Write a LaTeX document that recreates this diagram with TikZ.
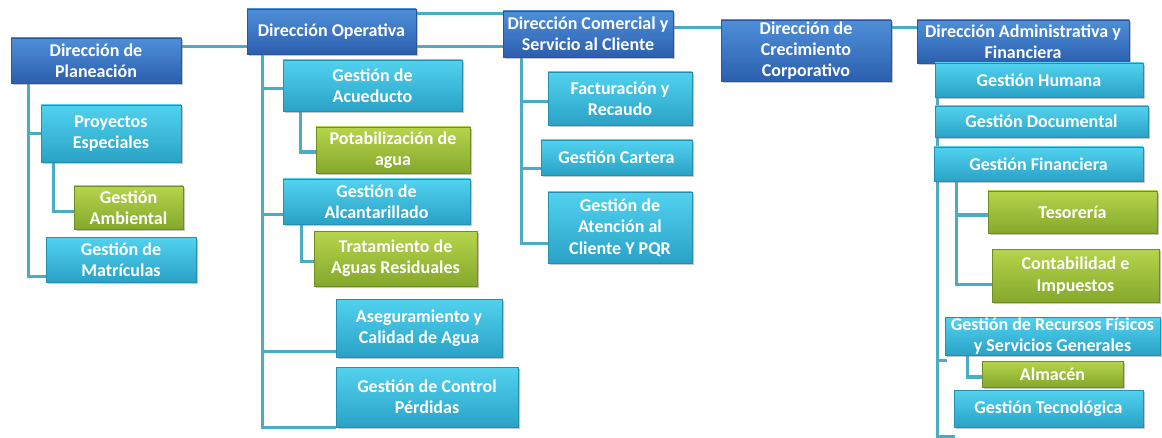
\documentclass[tikz,border=0pt]{standalone}
\usepackage{fontspec}
\setmainfont{Carlito}
\usetikzlibrary{calc,shadows,backgrounds}
\definecolor{dirtop}{HTML}{4E8FD8}
\definecolor{dirbot}{HTML}{2C5FAE}
\definecolor{dirline}{HTML}{2A55A0}
\definecolor{cyntop}{HTML}{52D2EF}
\definecolor{cynbot}{HTML}{2AA2C6}
\definecolor{cynline}{HTML}{2490B0}
\definecolor{grntop}{HTML}{B6D54C}
\definecolor{grnbot}{HTML}{85A82C}
\definecolor{grnline}{HTML}{6E8E22}
\definecolor{conn}{HTML}{4BACC6}
\tikzset{
  basebox/.style={inner sep=0pt, align=center, text=white,
    font=\fontsize{13.5}{16}\selectfont\bfseries, line width=0.6pt,
    drop shadow={shadow xshift=1.2pt, shadow yshift=-1.5pt, opacity=0.45}},
  sz/.style 2 args={minimum width=#1*0.75pt, minimum height=#2*0.75pt},
  dirbox/.style={basebox, top color=dirtop, bottom color=dirbot, draw=dirline},
  cynbox/.style={basebox, top color=cyntop, bottom color=cynbot, draw=cynline},
  grnbox/.style={basebox, top color=grntop, bottom color=grnbot, draw=grnline},
  conline/.style={draw=conn, line width=2.4pt}
}
\begin{document}
\begin{tikzpicture}[x=0.75pt,y=-0.75pt]
\useasboundingbox (0,0) rectangle (1162,438);
% Direcciones
\node[dirbox, sz={170}{45}] (plan) at (96,60.5) {Dirección de\\Planeación};
\node[dirbox, sz={169}{45}] (op) at (331.5,31.5) {Dirección Operativa};
\node[dirbox, sz={170}{46}] (com) at (588,34) {Dirección Comercial y\\Servicio al Cliente};
\node[dirbox, sz={170}{61}] (crec) at (806,50.5) {Dirección de\\Crecimiento\\Corporativo};
\node[dirbox, sz={212}{43}] (adm) at (1023,41.5) {Dirección Administrativa y\\Financiera};
% Planeacion
\node[cynbox, sz={140}{57}] (proy) at (111,133.5) {Proyectos\\Especiales};
\node[grnbox, sz={109}{43}] (amb) at (128.5,207.5) {Gestión\\Ambiental};
\node[cynbox, sz={150}{45}] (matr) at (121,259.5) {Gestión de\\Matrículas};
% Operativa
\node[cynbox, sz={179}{51}] (acu) at (372.5,85.5) {Gestión de\\Acueducto};
\node[grnbox, sz={154}{46}] (pot) at (393,150) {Potabilización de\\agua};
\node[cynbox, sz={187}{45}] (alc) at (376.5,201.5) {Gestión de\\Alcantarillado};
\node[grnbox, sz={163}{55}] (trat) at (395.5,258.5) {Tratamiento de\\Aguas Residuales};
\node[cynbox, sz={166}{58}] (aseg) at (419,328) {Aseguramiento y\\Calidad de Agua};
\node[cynbox, sz={182}{60}] (ctrl) at (427,397) {Gestión de Control\\Pérdidas};
% Comercial
\node[cynbox, sz={144}{53}] (fac) at (620,98.5) {Facturación y\\Recaudo};
\node[cynbox, sz={151}{35}] (car) at (616.5,157.5) {Gestión Cartera};
\node[cynbox, sz={144}{71}] (ate) at (620,227.5) {Gestión de\\Atención al\\Cliente Y PQR};
% Administrativa
\node[cynbox, sz={208}{34}] (hum) at (1039,80) {Gestión Humana};
\node[cynbox, sz={213}{31}] (doc) at (1041.5,121.5) {Gestión Documental};
\node[cynbox, sz={209}{34}] (fin) at (1038.5,164) {Gestión Financiera};
\node[grnbox, sz={169}{42}] (tes) at (1072.5,212) {Tesorería};
\node[grnbox, sz={167}{53}] (cont) at (1075.5,275.5) {Contabilidad e\\Impuestos};
\node[cynbox, sz={215}{38}] (rec) at (1052.5,336) {Gestión de Recursos Físicos\\y Servicios Generales};
\node[grnbox, sz={141}{26}] (alm) at (1052.5,374) {Almacén};
\node[cynbox, sz={189}{37}] (tec) at (1048.5,408.5) {Gestión Tecnológica};
% connectors
\begin{pgfonlayer}{background}
\coordinate (h1) at ($(plan.north east)+(0,9)$);
\draw[conline] (h1) -- (h1 -| com.west);
\coordinate (h2) at ($(op.north east)+(0,5)$);
\draw[conline] (h2) -- (h2 -| com.west);
\coordinate (h3) at ($(crec.north west)+(0,8)$);
\draw[conline] (h3 -| com.east) -- (h3 -| adm.west);
% Planeacion
\coordinate (vp) at ($(plan.south west)+(18,0)$);
\draw[conline] (vp) |- (proy.west);
\draw[conline] (vp) |- ($(matr.south west)+(0,-6)$);
\draw[conline] ($(proy.south west)+(13,0)$) |- ($(amb.west)+(0,4)$);
% Operativa
\coordinate (vo) at ($(op.south west)+(16,0)$);
\draw[conline] (vo) |- ($(acu.west)+(0,3)$);
\draw[conline] (vo) |- ($(alc.south west)+(0,-10)$);
\draw[conline] (vo) |- ($(aseg.south west)+(0,-6)$);
\draw[conline] (vo) |- (ctrl.south west);
\draw[conline] ($(acu.south west)+(18,0)$) |- ($(pot.west)+(0,2)$);
\draw[conline] ($(alc.south west)+(19,0)$) |- ($(trat.west)+(0,3)$);
% Comercial
\coordinate (vc) at ($(com.south west)+(19,0)$);
\draw[conline] (vc) |- ($(fac.west)+(0,3)$);
\draw[conline] (vc) |- ($(car.south west)+(0,-7)$);
\draw[conline] (vc) |- ($(ate.south west)+(0,-20)$);
% Administrativa
\coordinate (va) at ($(adm.south west)+(21,0)$);
\draw[conline] (va) |- ($(tec.south west)+(1,9)$);
\draw[conline] (va) |- ($(rec.south west)+(2,5)$);
\draw[conline] ($(fin.south west)+(23,0)$) |- ($(tes.west)+(0,3)$);
\draw[conline] ($(fin.south west)+(23,0)$) |- ($(cont.south west)+(0,-18)$);
\draw[conline] ($(rec.south west)+(23,0)$) |- ($(alm.west)+(0,3)$);
\end{pgfonlayer}
\end{tikzpicture}
\end{document}
